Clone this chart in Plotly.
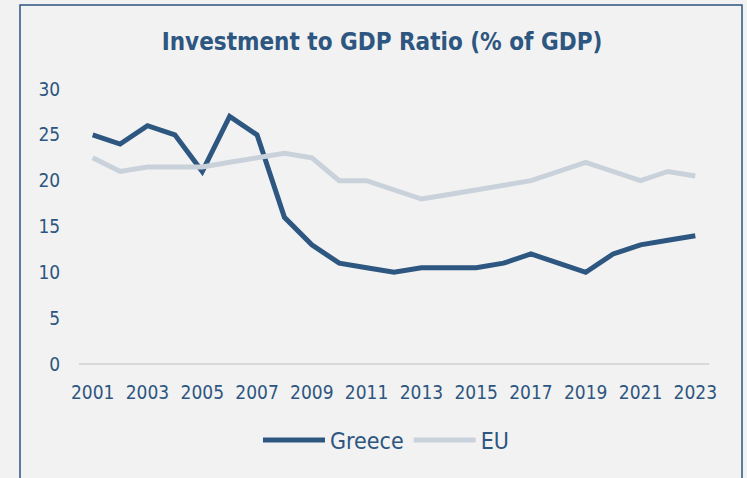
import plotly.graph_objects as go

years = list(range(2001, 2024))
greece = [25, 24, 26, 25, 21, 27, 25, 16, 13, 11, 10.5, 10, 10.5, 10.5, 10.5, 11, 12, 11, 10, 12, 13, 13.5, 14]
eu = [22.5, 21, 21.5, 21.5, 21.5, 22, 22.5, 23, 22.5, 20, 20, 19, 18, 18.5, 19, 19.5, 20, 21, 22, 21, 20, 21, 20.5]
tick_years = list(range(2001, 2024, 2))

NAVY = "#2d5680"
LIGHT = "#c9d2da"
BG = "#f2f2f2"
FONT = "DejaVu Sans Condensed, Liberation Sans Narrow, sans-serif"

fig = go.Figure()
fig.add_trace(go.Scatter(x=years, y=greece, mode="lines", name="Greece",
                         line=dict(color=NAVY, width=5)))
fig.add_trace(go.Scatter(x=years, y=eu, mode="lines", name="EU",
                         line=dict(color=LIGHT, width=5)))

fig.update_layout(
    width=747, height=478,
    paper_bgcolor=BG, plot_bgcolor=BG,
    margin=dict(l=79, r=38, t=89, b=114),
    font=dict(family=FONT, color=NAVY, size=19),
    title=dict(text="<b>Investment to GDP Ratio (% of GDP)</b>",
               x=382 / 747, xanchor="center", y=1 - 42 / 478, yanchor="middle",
               font=dict(family=FONT, size=24, color=NAVY)),
    showlegend=True,
    legend=dict(orientation="h", x=386 / 747, xref="container", xanchor="center",
                yref="container", y=1 - 440 / 478, yanchor="middle",
                itemwidth=62,
                font=dict(family=FONT, size=23, color=NAVY),
                bgcolor="rgba(0,0,0,0)"),
    xaxis=dict(range=[2000.5, 2023.5], tickvals=tick_years,
               ticktext=[str(y) for y in tick_years],
               showgrid=False, zeroline=False, showline=False,
               ticks="outside", ticklen=11, tickcolor="rgba(0,0,0,0)",
               fixedrange=True),
    yaxis=dict(range=[0, 30], dtick=5, showgrid=False, zeroline=True,
               zerolinecolor="#d9d9d9", zerolinewidth=2, showline=False,
               ticks="outside", ticklen=14, tickcolor="rgba(0,0,0,0)",
               fixedrange=True),
    shapes=[dict(type="rect", xref="paper", yref="paper",
                 x0=-59 / 630, x1=(742 - 79) / 630,
                 y0=-0.5, y1=1 + 84 / 275,
                 line=dict(color=NAVY, width=1.5), fillcolor="rgba(0,0,0,0)",
                 layer="below")],
)

fig.write_html("out.html")
